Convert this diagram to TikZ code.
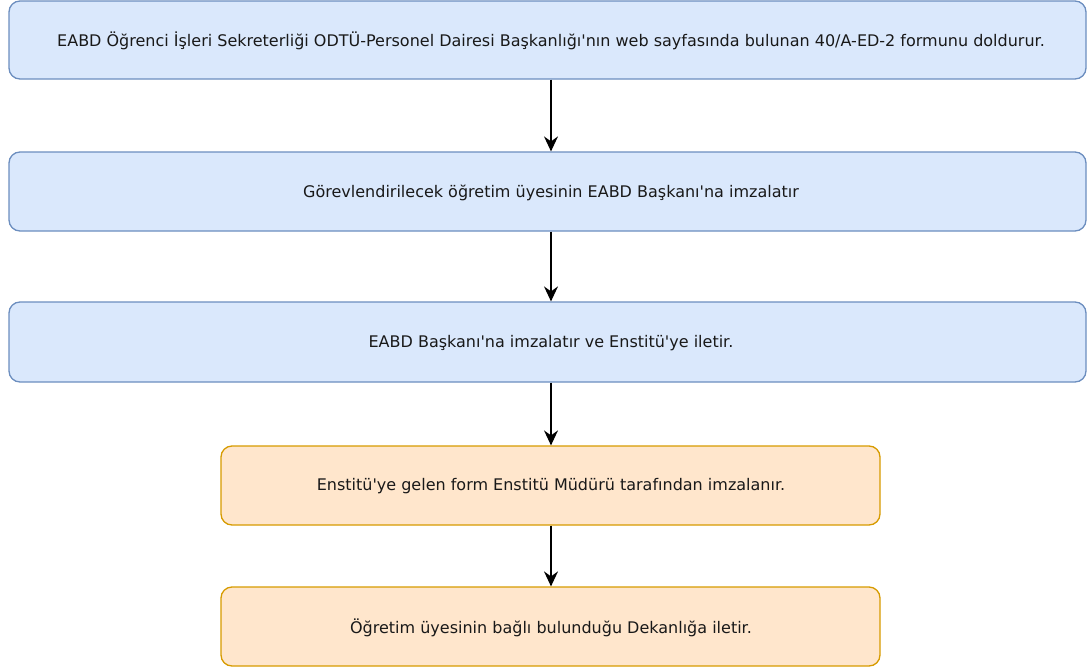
\documentclass[tikz,border=0pt]{standalone}
\usepackage{fontspec}
\setmainfont{DejaVu Sans}
\usetikzlibrary{arrows.meta}
\definecolor{bfill}{HTML}{DAE8FC}
\definecolor{bline}{HTML}{6C8EBF}
\definecolor{ofill}{HTML}{FFE6CC}
\definecolor{oline}{HTML}{D79B00}
\newcommand{\apo}{\textquotesingle}
\begin{document}
\begin{tikzpicture}[x=1pt,y=-1pt,
  bluebox/.style={draw=bline,fill=bfill,line width=1.3pt,rounded corners=11pt},
  orangebox/.style={draw=oline,fill=ofill,line width=1.3pt,rounded corners=11pt},
  lbl/.style={font=\fontsize{16}{19}\selectfont,text=black!90},
  conn/.style={-{Stealth[length=15pt,width=14pt,inset=5pt]},line width=1.5pt,black}]
\useasboundingbox (0,0) rectangle (1088,667);
\draw[bluebox] (9,1) rectangle (1086,79);
\node[lbl] (a) at (551,40.5) {EABD Öğrenci İşleri Sekreterliği ODTÜ-Personel Dairesi Başkanlığı\apo nın web sayfasında bulunan 40/A-ED-2 formunu doldurur.};
\coordinate (a1) at (551,79.6);
\draw[bluebox] (9,152) rectangle (1086,231);
\node[lbl] (b) at (551,192.5) {Görevlendirilecek öğretim üyesinin EABD Başkanı\apo na imzalatır};
\coordinate (b0) at (551,151.4);
\coordinate (b1) at (551,231.6);
\draw[bluebox] (9,302) rectangle (1086,382);
\node[lbl] (c) at (551,343) {EABD Başkanı\apo na imzalatır ve Enstitü\apo ye iletir.};
\coordinate (c0) at (551,301.4);
\coordinate (c1) at (551,382.6);
\draw[orangebox] (221,446) rectangle (880,525);
\node[lbl] (d) at (551,486.5) {Enstitü\apo ye gelen form Enstitü Müdürü tarafından imzalanır.};
\coordinate (d0) at (551,445.4);
\coordinate (d1) at (551,525.6);
\draw[orangebox] (221,587) rectangle (880,666);
\node[lbl] (e) at (551,627.5) {Öğretim üyesinin bağlı bulunduğu Dekanlığa iletir.};
\coordinate (e0) at (551,586.4);
\draw[conn] (a1) -- (b0);
\draw[conn] (b1) -- (c0);
\draw[conn] (c1) -- (d0);
\draw[conn] (d1) -- (e0);
\end{tikzpicture}
\end{document}
